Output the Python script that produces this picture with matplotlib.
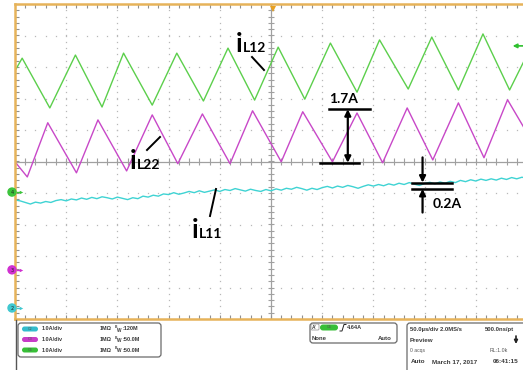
import matplotlib.pyplot as plt
from matplotlib.patches import FancyBboxPatch, Circle
import numpy as np

plt.rcParams['lines.scale_dashes'] = False

# scope setup: 50 us/div, 1 A/div on every channel, ground markers in divisions
t_div = 50.0
a_div = 1.0
gnd = {'C2': -4.65, 'C3': -3.44, 'C4': -0.97}

# iL12 on C4 (green), ramp corners: time in us, current in A
t_l12 = [-250, -243, -216, -191, -165, -144, -116, -92, -66, -42, -16,
         7, 33, 58, 84, 106, 134, 157, 183, 207, 233, 250]
i_l12 = [3.85, 4.25, 2.67, 4.35, 2.70, 4.41, 2.76, 4.41, 2.89, 4.57, 2.92,
         4.60, 2.95, 4.73, 3.17, 4.83, 3.27, 4.92, 3.24, 5.02, 3.24, 4.35]

# iL22 on C3 (magenta)
t_l22 = [-250, -238, -218, -190, -169, -141, -116, -91, -67, -40, -18,
         10, 31, 60, 84, 109, 133, 158, 183, 208, 231, 250]
i_l22 = [3.43, 2.95, 4.67, 3.08, 4.76, 3.14, 4.92, 3.37, 4.95, 3.37, 5.05,
         3.43, 5.02, 3.43, 4.98, 3.40, 5.14, 3.49, 5.30, 3.56, 5.40, 4.35]

# iL11 on C2 (cyan), sampled every 5 us
t_l11 = np.arange(-250, 251, 5)
i_l11 = [3.43, 3.40, 3.35, 3.30, 3.36, 3.33, 3.38, 3.35, 3.41, 3.44,
         3.40, 3.46, 3.43, 3.49, 3.45, 3.51, 3.47, 3.53, 3.50, 3.46,
         3.52, 3.48, 3.44, 3.50, 3.47, 3.55, 3.52, 3.58, 3.55, 3.62,
         3.60, 3.66, 3.61, 3.65, 3.70, 3.66, 3.72, 3.67, 3.71, 3.75,
         3.70, 3.76, 3.73, 3.79, 3.75, 3.71, 3.77, 3.73, 3.70, 3.76,
         3.72, 3.78, 3.74, 3.80, 3.77, 3.83, 3.79, 3.74, 3.80, 3.76,
         3.82, 3.86, 3.81, 3.87, 3.83, 3.89, 3.85, 3.80, 3.86, 3.91,
         3.87, 3.92, 3.88, 3.94, 3.90, 3.96, 3.92, 3.98, 3.93, 3.89,
         3.95, 3.99, 3.94, 4.00, 3.96, 4.02, 3.98, 4.05, 4.01, 4.07,
         4.03, 4.09, 4.05, 4.10, 4.06, 4.12, 4.08, 4.14, 4.10, 4.15, 4.12]

trig_level = 4.64      # A, on C4
pp_l22 = 1.7           # A, marked ripple of iL22
l22_low = 3.40
pp_l11 = 0.2           # A, marked ripple of iL11
l11_low = 3.78

c_green = '#5ccf4c'
c_mag = '#c848c8'
c_cyan = '#3fd3d3'
c_orange = '#e6b35a'
c_grid = '#b8b8b8'


def to_div(ch, amps):
    return np.asarray(amps) / a_div + gnd[ch]


W, H = 523, 370
x0, y0, pdx, pdy = 15, 4, 51.2, 31.5
fig = plt.figure(figsize=(W / 100, H / 100), dpi=100)
ax = fig.add_axes([x0 / W, 1 - (y0 + 10 * pdy) / H, 10 * pdx / W, 10 * pdy / H])
ax.set_xlim(-5 * t_div, 5 * t_div)
ax.set_ylim(-5, 5)
ax.set_xticks([])
ax.set_yticks([])
for side in ['left', 'top', 'bottom']:
    ax.spines[side].set_color(c_orange)
    ax.spines[side].set_linewidth(1.8)
ax.spines['right'].set_visible(False)

# graticule: dotted division lines, solid centre cross with minor ticks
xs_minor = np.arange(-250, 251, 10)
ys_minor = np.arange(-5, 5.01, 0.2)
for xv in np.arange(-200, 251, 50):
    if xv != 0:
        ax.plot(np.full_like(ys_minor, xv), ys_minor, ls='none', marker='s',
                ms=0.9, mew=0, color=c_grid)
for yv in range(-4, 5):
    if yv != 0:
        ax.plot(xs_minor, np.full(len(xs_minor), yv), ls='none', marker='s',
                ms=0.9, mew=0, color=c_grid)
ax.axhline(0, color='#a0a0a0', lw=0.9)
ax.axvline(0, color='#a0a0a0', lw=0.9)
ax.vlines(xs_minor, -0.1, 0.1, color='#a0a0a0', lw=0.8)
ax.hlines(ys_minor, -3, 3, color='#a0a0a0', lw=0.8)
ax.vlines(xs_minor, 4.88, 5, color='#909090', lw=0.8)
ax.vlines(xs_minor, -5, -4.88, color='#909090', lw=0.8)
ax.hlines(ys_minor, -250, -246, color='#909090', lw=0.8)

# traces
ax.plot(t_l12, to_div('C4', i_l12), color=c_green, lw=1.0)
ax.plot(t_l22, to_div('C3', i_l22), color=c_mag, lw=1.0)
ax.plot(t_l11, to_div('C2', i_l11), color=c_cyan, lw=1.0)

# trigger position and level markers
ax.plot(2, 4.85, marker='v', color='#e8a020', ms=5, mew=0, clip_on=False)
yt = to_div('C4', trig_level)
ax.annotate('', xy=(236, yt), xytext=(246, yt), annotation_clip=False,
            arrowprops=dict(arrowstyle='-|>', color='#2fc02f', lw=1.2,
                            mutation_scale=6, shrinkA=0, shrinkB=0))

# 1.7A peak-to-peak marker on iL22
y_lo = to_div('C3', l22_low)
y_hi = to_div('C3', l22_low + pp_l22)
ax.plot([48, 86], [y_lo, y_lo], color='k', lw=1.8)
ax.plot([57, 97], [y_hi, y_hi], color='k', lw=1.8)
ax.annotate('', xy=(75, y_lo), xytext=(75, y_hi),
            arrowprops=dict(arrowstyle='<|-|>', color='k', lw=1.6,
                            mutation_scale=9, shrinkA=0, shrinkB=0))
ax.text(57, y_hi + 0.2, '1.7A', family='Lato', weight='bold', fontsize=10,
        va='baseline', ha='left')

# 0.2A ripple marker on iL11
y_lo = to_div('C2', l11_low)
y_hi = to_div('C2', l11_low + pp_l11)
ax.plot([138, 177], [y_lo, y_lo], color='k', lw=1.8)
ax.plot([138, 177], [y_hi, y_hi], color='k', lw=1.8)
ax.annotate('', xy=(148, y_hi), xytext=(148, y_hi + 0.8),
            arrowprops=dict(arrowstyle='-|>', color='k', lw=1.6,
                            mutation_scale=9, shrinkA=0, shrinkB=0))
ax.annotate('', xy=(148, y_lo), xytext=(148, y_lo - 0.75),
            arrowprops=dict(arrowstyle='-|>', color='k', lw=1.6,
                            mutation_scale=9, shrinkA=0, shrinkB=0))
ax.text(158, y_lo - 0.6, '0.2A', family='Lato', weight='bold', fontsize=10,
        va='baseline', ha='left')

# overlay in pixel units for labels and the status panel
ov = fig.add_axes([0, 0, 1, 1], zorder=5)
ov.set_xlim(0, W)
ov.set_ylim(H, 0)
ov.axis('off')


def trace_label(x, y, sub):
    ov.text(x, y, 'i', family='Lato', weight='bold', fontsize=19, va='baseline')
    ov.text(x + 7, y, sub, family='Lato', weight='bold', fontsize=10, va='baseline')


trace_label(236, 52, 'L12')
ov.plot([252, 264], [57, 70], color='k', lw=1.4)
trace_label(130, 169, 'L22')
ov.plot([147, 160], [150, 137], color='k', lw=1.4)
trace_label(192, 238, 'L11')
ov.plot([210, 216], [216, 189], color='k', lw=1.4)

# channel ground markers on the left edge
for ch, col, num in [('C4', '#3cc43c', '4'), ('C3', '#d030d0', '3'), ('C2', '#40c8d0', '2')]:
    yp = y0 + (5 - gnd[ch]) * pdy
    ov.add_patch(Circle((12, yp), 4, color=col, zorder=6))
    ov.text(12, yp + 0.3, num, fontsize=3.5, ha='center', va='center', color='#222', zorder=7)
    ov.plot([16.5, 20], [yp, yp], color=col, lw=1, zorder=6)
    ov.plot(20.5, yp, marker='>', ms=2.5, color=col, mew=0, zorder=6)

# status panel
ov.plot([15.5, 15.5], [320, H], color='#555555', lw=1)
fpan = dict(family='Liberation Sans', weight='bold', color='#3a3a3a', va='center')


def box(x, y, w, h, **kw):
    ov.add_patch(FancyBboxPatch((x, y), w, h, boxstyle='round,pad=0,rounding_size=3',
                                fc='white', ec='#6a6a6a', lw=0.9, **kw))


box(18, 323, 143, 34)
box(310, 323, 87, 20)
box(407, 323, 130, 50)

chan_rows = [('C2', '#33bccc', '120M', 329), ('C3', '#c83cc8', '50.0M', 339.5),
             ('C4', '#38bf38', '50.0M', 350)]
for ch, col, bw, yr in chan_rows:
    ov.add_patch(FancyBboxPatch((22, yr - 2.5), 16, 5, boxstyle='round,pad=0,rounding_size=2.5',
                                fc=col, ec='none'))
    ov.text(30, yr, ch, fontsize=2.5, ha='center', va='center', color='#555555')
    ov.text(42, yr, '1.0A/div', fontsize=4, **fpan)
    ov.text(100, yr, '1M\u03a9', fontsize=4, **fpan)
    ov.text(114.5, yr - 1.8, 'B', fontsize=2.4, **fpan)
    ov.text(117.2, yr + 1.0, 'W', fontsize=3.4, **fpan)
    ov.text(122.5, yr, ':' + bw, fontsize=4, **fpan)

ov.add_patch(FancyBboxPatch((311, 324), 8, 6, boxstyle='round,pad=0,rounding_size=1',
                            fc='white', ec='#888888', lw=0.5))
ov.text(312, 327.2, "A'", fontsize=3.5, **fpan)
ov.add_patch(FancyBboxPatch((320, 324.5), 18, 6, boxstyle='round,pad=0,rounding_size=3',
                            fc='#38bf38', ec='none'))
ov.text(329, 327.5, 'C4', fontsize=2.5, ha='center', va='center', color='#555555')
ov.plot([340, 342, 344, 346], [331, 331, 324.5, 324.5], color='#222222', lw=0.7)
ov.text(347, 327.5, '4.64A', fontsize=4, **fpan)
ov.text(312, 338, 'None', fontsize=4.3, **fpan)
ov.text(378, 338, 'Auto', fontsize=4.3, **fpan)

ov.text(410, 329, '50.0\u00b5s/div 2.0MS/s', fontsize=4.2, **fpan)
ov.text(485, 329, '500.0ns/pt', fontsize=4.2, **fpan)
ov.text(410, 340, 'Preview', fontsize=4.5, **fpan)
ov.annotate('', xy=(516, 344), xytext=(516, 336),
            arrowprops=dict(arrowstyle='-|>', color='#222222', lw=1.2,
                            mutation_scale=5, shrinkA=0, shrinkB=0))
ov.text(410, 350.5, '0 acqs', fontsize=3.6, family='Liberation Sans', color='#555555', va='center')
ov.text(490, 350.5, 'RL:1.0k', fontsize=3.8, family='Liberation Sans', color='#555555', va='center')
ov.text(411, 361.5, 'Auto', fontsize=4.6, **fpan)
ov.text(432, 361.5, 'March 17, 2017', fontsize=4.6, **fpan)
ov.text(493, 361.5, '06:41:15', fontsize=4.6, **fpan)

fig.savefig('out.png', dpi=100, facecolor='white')
